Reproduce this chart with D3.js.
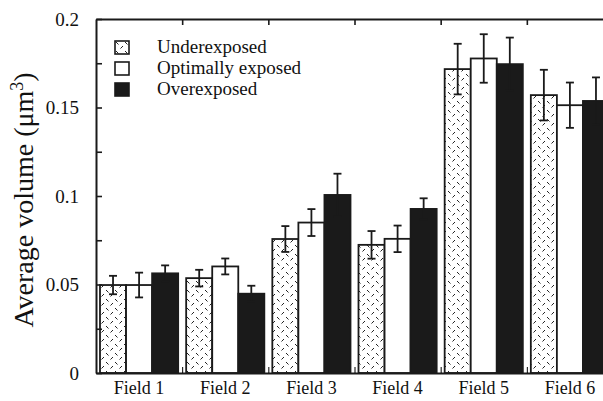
<!DOCTYPE html>
<html>
<head>
<meta charset="utf-8">
<script src="https://cdn.jsdelivr.net/npm/d3@7"></script>
<style>
  body { margin: 0; background: #fff; }
  svg { display: block; overflow: hidden; }
  text { font-family: "Liberation Serif", "DejaVu Serif", serif; fill: #111; }
</style>
</head>
<body>
<div id="chart"></div>
<script>
// data
const fields = ['Field 1', 'Field 2', 'Field 3', 'Field 4', 'Field 5', 'Field 6'];
const series = ['Underexposed', 'Optimally exposed', 'Overexposed'];
const underMean = [0.0497, 0.0536, 0.0757, 0.0724, 0.1717, 0.1570];
const underErr  = [0.0052, 0.0047, 0.0073, 0.0078, 0.0143, 0.0143];
const optMean   = [0.0497, 0.0602, 0.0850, 0.0758, 0.1777, 0.1513];
const optErr    = [0.0070, 0.0045, 0.0076, 0.0075, 0.0137, 0.0128];
const overMean  = [0.0563, 0.0448, 0.1006, 0.0927, 0.1745, 0.1537];
const overErr   = [0.0045, 0.0045, 0.0120, 0.0060, 0.0150, 0.0133];
const yTicks = [0, 0.05, 0.1, 0.15, 0.2];
const yTickLabels = ['0', '0.05', '0.1', '0.15', '0.2'];
const yMinorTicks = [0.025, 0.075, 0.125, 0.175];

const means = [underMean, optMean, overMean];
const errs = [underErr, optErr, overErr];

const config = {
  containerWidth: 603,
  containerHeight: 401,
  margin: { top: 19, right: -10, bottom: 28, left: 96 }
};
const width = config.containerWidth - config.margin.left - config.margin.right;
const height = config.containerHeight - config.margin.top - config.margin.bottom;

const svg = d3.select('#chart').append('svg')
  .attr('width', config.containerWidth)
  .attr('height', config.containerHeight);

// hatch pattern for the underexposed bars
const defs = svg.append('defs');
const pat = defs.append('pattern')
  .attr('id', 'hatch')
  .attr('patternUnits', 'userSpaceOnUse')
  .attr('width', 9).attr('height', 9);
pat.append('rect').attr('width', 9).attr('height', 9).attr('fill', '#fff');
pat.append('path')
  .attr('d', 'M1,1 L3.5,3.5 M8,5 L5.5,7.5')
  .attr('stroke', '#222').attr('stroke-width', 1);

const fillFor = i => i === 0 ? 'url(#hatch)' : (i === 1 ? '#fff' : '#1a1a1a');

const chart = svg.append('g')
  .attr('transform', `translate(${config.margin.left},${config.margin.top})`);

const xScale = d3.scaleBand().domain(fields).range([0, width]).padding(0);
const xSub = d3.scaleBand().domain(series).range([4, xScale.bandwidth() - 4]).padding(0);
const xEdge = d3.scaleLinear().domain([0, fields.length]).range([0, width]);
const yScale = d3.scaleLinear().domain([0, 0.2]).range([height, 0]);

// flatten data for drawing
const bars = [];
fields.forEach((f, fi) => {
  series.forEach((s, si) => {
    bars.push({ field: f, series: s, si: si, mean: means[si][fi], err: errs[si][fi] });
  });
});

// bars
chart.selectAll('.bar')
  .data(bars)
  .join('rect')
  .attr('class', 'bar')
  .attr('x', d => xScale(d.field) + xSub(d.series))
  .attr('y', d => yScale(d.mean))
  .attr('width', xSub.bandwidth())
  .attr('height', d => height - yScale(d.mean))
  .attr('fill', d => fillFor(d.si))
  .attr('stroke', '#1a1a1a')
  .attr('stroke-width', 1.8);

// error bars
const cx = d => xScale(d.field) + xSub(d.series) + xSub.bandwidth() / 2;
const eb = chart.selectAll('.err')
  .data(bars)
  .join('g')
  .attr('class', 'err')
  .attr('stroke', '#1a1a1a')
  .attr('stroke-width', 1.8);
eb.append('line')
  .attr('x1', cx).attr('x2', cx)
  .attr('y1', d => yScale(d.mean + d.err))
  .attr('y2', d => yScale(d.mean - d.err));
eb.append('line')
  .attr('x1', d => cx(d) - 4).attr('x2', d => cx(d) + 4)
  .attr('y1', d => yScale(d.mean + d.err))
  .attr('y2', d => yScale(d.mean + d.err));
eb.append('line')
  .attr('x1', d => cx(d) - 4).attr('x2', d => cx(d) + 4)
  .attr('y1', d => yScale(d.mean - d.err))
  .attr('y2', d => yScale(d.mean - d.err));

// y axis, ticks pointing inward
const yAxis = d3.axisLeft(yScale)
  .tickValues(yTicks)
  .tickFormat((d, i) => yTickLabels[i])
  .tickSizeInner(-6)
  .tickSizeOuter(0)
  .tickPadding(17);
chart.append('g').attr('class', 'axis y-axis').call(yAxis);
chart.append('g')
  .call(d3.axisLeft(yScale).tickValues(yMinorTicks).tickFormat('').tickSizeInner(-6).tickSizeOuter(0))
  .call(g => g.select('.domain').remove());

// top frame with ticks at group edges
chart.append('g')
  .call(d3.axisTop(xEdge).tickValues(d3.range(1, fields.length)).tickFormat('').tickSizeInner(-6).tickSizeOuter(0));

// bottom frame with small ticks at group edges
chart.append('g')
  .attr('transform', `translate(0,${height})`)
  .call(d3.axisBottom(xEdge).tickValues(d3.range(1, fields.length)).tickFormat('').tickSizeInner(-6).tickSizeOuter(0))
  .call(g => g.selectAll('.tick line').attr('stroke-width', 1));

// field labels
chart.append('g')
  .attr('class', 'field-labels')
  .attr('transform', `translate(0,${height})`)
  .call(d3.axisBottom(xScale).tickSize(0).tickPadding(8))
  .call(g => g.select('.domain').remove());

chart.selectAll('.domain').attr('stroke', '#1a1a1a').attr('stroke-width', 2);
chart.selectAll('.tick line').filter(function () { return !this.getAttribute('stroke-width'); })
  .attr('stroke', '#1a1a1a').attr('stroke-width', 1.6);
chart.selectAll('.tick text')
  .attr('font-family', '"Liberation Serif", serif')
  .attr('font-size', 19)
  .attr('fill', '#111');
chart.selectAll('.field-labels .tick text').attr('font-size', 18);

// y axis title
const yTitle = svg.append('text')
  .attr('transform', `translate(33,${config.margin.top + height / 2 + 4}) rotate(-90)`)
  .attr('text-anchor', 'middle')
  .attr('font-size', 28);
yTitle.append('tspan').text('Average volume (\u03bcm');
yTitle.append('tspan').attr('font-size', 18).attr('dy', -10).text('3');
yTitle.append('tspan').attr('dy', 10).text(')');

// legend
const legend = chart.append('g')
  .attr('transform', 'translate(19,22)');
const items = legend.selectAll('.item')
  .data(series)
  .join('g')
  .attr('class', 'item')
  .attr('transform', (d, i) => `translate(0,${i * 21})`);
items.append('rect')
  .attr('width', 14).attr('height', 13)
  .attr('fill', (d, i) => fillFor(i))
  .attr('stroke', '#1a1a1a')
  .attr('stroke-width', 1.6);
items.append('text')
  .attr('x', 42)
  .attr('y', 12)
  .attr('font-size', 19)
  .text(d => d);
</script>
</body>
</html>
